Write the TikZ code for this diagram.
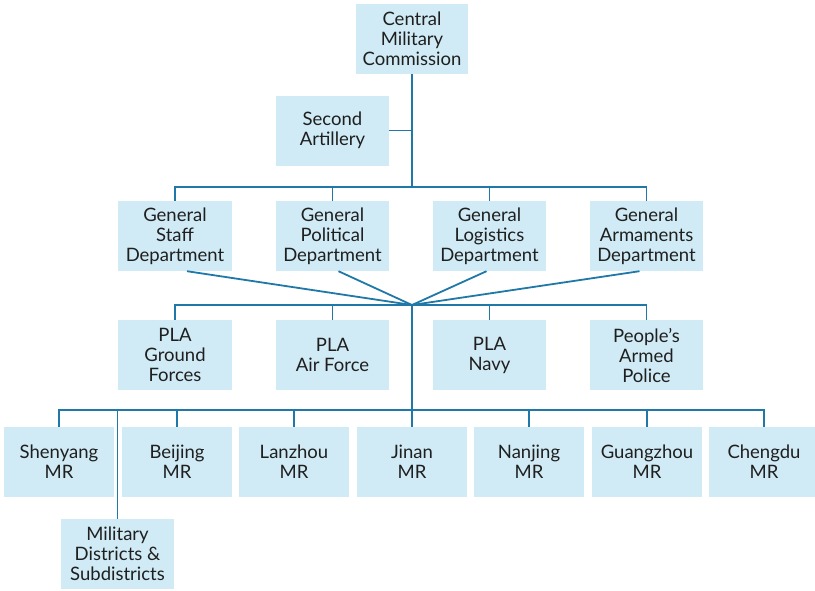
\documentclass[tikz,border=0pt]{standalone}
\usepackage{fontspec}
\setmainfont{Lato}
\usetikzlibrary{calc}
\definecolor{boxfill}{HTML}{D0EBF5}
\definecolor{linec}{HTML}{2078A8}
\begin{document}
\begin{tikzpicture}[x=1pt,y=-1pt,
  box/.style={fill=boxfill, minimum width=#1, minimum height=70, inner sep=0pt, align=center,
              font=\fontsize{18.5}{20}\selectfont, text={black!88}},
  box/.default=113,
  conn/.style={draw=linec, line width=1.8pt}]
\useasboundingbox (0,0) rectangle (815,590);
% top
\node[box=112] (cmc) at (412,39) {Central\\Military\\Commission};
\node[box=113] (sa) at (332.5,130.5) {Second\\Artillery};
% general departments
\node[box=114] (gs) at (175,236) {General\\Staff\\Department};
\node[box=113] (gp) at (332.5,236) {General\\Political\\Department};
\node[box=113] (gl) at (489.5,236) {General\\Logistics\\Department};
\node[box=113] (ga) at (646.5,236) {General\\Armaments\\Department};
% services
\node[box=114] (pg) at (175,355) {PLA\\Ground\\Forces};
\node[box=113] (pa) at (332.5,355) {PLA\\Air Force};
\node[box=113] (pn) at (489.5,355) {PLA\\Navy};
\node[box=113] (pp) at (646.5,355) {People’s\\Armed\\Police};
% military regions
\node[box=110] (sy) at (59,462) {Shenyang\\MR};
\node[box=110] (bj) at (177,462) {Beijing\\MR};
\node[box=110] (lz) at (294,462) {Lanzhou\\MR};
\node[box=110] (jn) at (412,462) {Jinan\\MR};
\node[box=110] (nj) at (529,462) {Nanjing\\MR};
\node[box=110] (gz) at (647,462) {Guangzhou\\MR};
\node[box=110] (cd) at (764,462) {Chengdu\\MR};
\node[box=113] (md) at (117.5,554) {Military\\Districts \&\\Subdistricts};
% junctions
\coordinate (j1) at (412,187);
\coordinate (fan) at (412,305);
\coordinate (j3) at (412,410);
% connectors
\draw[conn] (cmc.south) -- (j1);
\draw[conn] (sa.east) -- (sa.east -| cmc.south);
\foreach \n in {gs,gp,gl,ga} \draw[conn] (j1) -| (\n.north);
\draw[conn] ($(gs.south)+(12,0)$) -- (fan);
\draw[conn] ($(gp.south)+(6,0)$) -- (fan);
\draw[conn] ($(gl.south)+(-3,0)$) -- (fan);
\draw[conn] ($(ga.south)+(-7,0)$) -- (fan);
\foreach \n in {pg,pa,pn,pp} \draw[conn] (fan) -| (\n.north);
\draw[conn] (fan) -- (j3);
\foreach \n in {sy,bj,lz,jn,nj,gz,cd} \draw[conn] (j3) -| (\n.north);
\draw[conn] (j3) -| (md.north);
\end{tikzpicture}
\end{document}
